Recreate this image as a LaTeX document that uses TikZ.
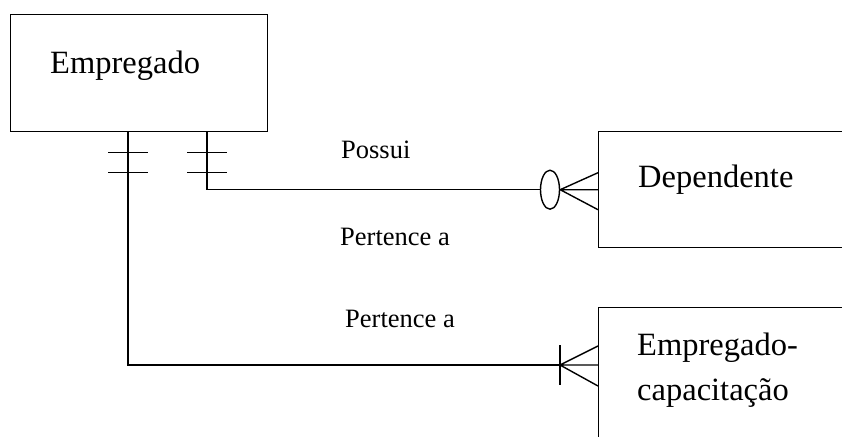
\documentclass[tikz,border=0pt]{standalone}
\usepackage{fontspec}
\setmainfont{Liberation Serif}
\usetikzlibrary{calc,positioning,shapes.geometric}
\tikzset{entity/.style={draw,line width=1.4pt,anchor=north west,inner sep=0pt}}
\tikzset{link/.style={line width=1.4pt}}
\tikzset{ename/.style={font=\fontsize{32.5}{45}\selectfont,anchor=base west,inner sep=0pt,align=left}}
\tikzset{rname/.style={font=\fontsize{26.5}{30}\selectfont,anchor=base west,inner sep=0pt}}

\begin{document}
\begin{tikzpicture}[x=1pt,y=-1pt]
  \useasboundingbox (0,0) rectangle (842,436);
  \clip (0,0) rectangle (842,436);
  \pgfmathsetmacro{\foot}{38}
  \node[entity,minimum width=257pt,minimum height=117pt] (emp) at (10,14) {};
  \node[entity,minimum width=260pt,minimum height=116pt] (dep) at (598,131) {};
  \node[entity,minimum width=260pt,minimum height=160pt] (cap) at (598,307) {};
  \node[ename] (empname) at (50,73) {Empregado};
  \node[ename] (depname) at (638,187) {Dependente};
  \node[ename] (capname) at (637,400) {Empregado-\\capacitação};
  \node[rname] (possui) at (341,158) {Possui};
  \node[rname] (pert1) at (340,245) {Pertence a};
  \node[rname] (pert2) at (345,327) {Pertence a};
  % Empregado -- Dependente
  \draw[link] (emp.south west) ++(197,0) |- ($(dep.west)+(-\foot-10,0)$);
  \node[draw,link,ellipse,fill=white,inner sep=0pt,minimum width=19pt,minimum height=39pt] (zero) at ($(dep.west)+(-\foot-10,0)$) {};
  \draw[link] (zero.east) -- ($(dep.west)+(0,-17)$)
    (zero.east) -- (dep.west)
    (zero.east) -- ($(dep.west)+(0,20)$);
  % Empregado -- Empregado-capacitacao
  \coordinate (crow) at ($(cap.north west)+(-\foot,58)$);
  \draw[link] (emp.south west) ++(118,0) |- (crow);
  \draw[link] (crow) -- ++(\foot,-19) (crow) -- ++(\foot,0) (crow) -- ++(\foot,21);
  \draw[link] (crow) ++(0,-20) -- ++(0,40);
  \foreach \d in {20,40} {
    \draw[link] ($(emp.south west)+(98,\d)$) -- ++(40,0);
    \draw[link] ($(emp.south west)+(177,\d)$) -- ++(40,0);
  }
\end{tikzpicture}
\end{document}
